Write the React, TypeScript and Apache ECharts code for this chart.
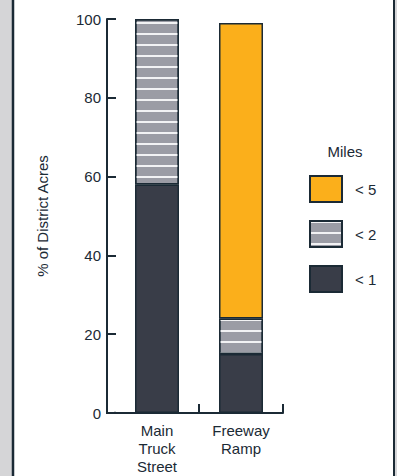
import React, { useEffect, useRef } from "react";
import * as echarts from "echarts";

const categories = ["Main\nTruck\nStreet", "Freeway\nRamp"];
const seriesNames = ["< 1", "< 2", "< 5"];
const under1 = [58, 15];
const under2 = [42, 9];
const under5: (number | string)[] = ["-", 75];
const yTicks = { min: 0, max: 100, interval: 20 };

const DARK = "#1b2a35";
const FONT = "Liberation Sans, Arial, sans-serif";

export default function App() {
  const ref = useRef<HTMLDivElement>(null);
  useEffect(() => {
    if (!ref.current) return;
    const chart = echarts.init(ref.current, undefined, { renderer: "svg" });
    const border = { borderColor: DARK, borderWidth: 1.5 };
    chart.setOption({
      animation: false,
      backgroundColor: "#ffffff",
      textStyle: { fontFamily: FONT },
      graphic: [
        { type: "rect", shape: { x: 0, y: 0, width: 12, height: 476 }, style: { fill: "#d5d5d7" }, z: -10 },
        { type: "rect", shape: { x: 395, y: 0, width: 2, height: 476 }, style: { fill: "#d5d5d7" }, z: -10 },
        { type: "line", shape: { x1: 13, y1: 0, x2: 13, y2: 476 }, style: { stroke: DARK, lineWidth: 2.5 } },
        { type: "line", shape: { x1: 394, y1: 0, x2: 394, y2: 476 }, style: { stroke: DARK, lineWidth: 2 } },
        { type: "rect", shape: { x: 113, y: 402, width: 5, height: 9.8 }, style: { fill: "#ffffff" }, z: 100 },
        { type: "line", shape: { x1: 106, y1: 413, x2: 116, y2: 413 }, style: { stroke: DARK, lineWidth: 2 }, z: 101 },
      ],
      title: {
        text: "Miles",
        left: 345,
        top: 144,
        textAlign: "center",
        padding: 0,
        textStyle: { fontSize: 15, fontWeight: "normal", color: DARK, fontFamily: FONT },
      },
      legend: {
        data: ["< 5", "< 2", "< 1"],
        orient: "vertical",
        left: 309,
        top: 175,
        padding: 0,
        icon: "rect",
        itemWidth: 32,
        itemHeight: 26,
        itemGap: 17,
        selectedMode: false,
        textStyle: { fontSize: 15, color: DARK, fontFamily: FONT, padding: [0, 0, 0, 8] },
      },
      grid: { left: 115, right: 114, top: 19, bottom: 63 },
      xAxis: {
        type: "category",
        data: categories,
        axisLine: { lineStyle: { color: DARK, width: 2 } },
        axisTick: {
          show: true,
          inside: true,
          length: 9,
          lineStyle: { color: DARK, width: 2 },
        },
        axisLabel: { fontSize: 15, lineHeight: 18, color: DARK, margin: 8, fontFamily: FONT, interval: 0 },
      },
      yAxis: {
        type: "value",
        min: yTicks.min,
        max: yTicks.max,
        interval: yTicks.interval,
        offset: 8,
        name: "% of District Acres",
        nameLocation: "middle",
        nameGap: 57,
        nameTextStyle: { fontSize: 15, color: DARK, fontFamily: FONT },
        axisLine: { show: true, lineStyle: { color: DARK, width: 2 } },
        axisTick: { show: true, inside: true, length: 9, lineStyle: { color: DARK, width: 2 } },
        axisLabel: { fontSize: 15, color: DARK, margin: 6, fontFamily: FONT },
        splitLine: { show: false },
      },
      series: [
        {
          name: seriesNames[0],
          type: "bar",
          stack: "a",
          barWidth: 44,
          data: under1,
          itemStyle: { color: "#393d48", ...border },
        },
        {
          name: seriesNames[1],
          type: "bar",
          stack: "a",
          barWidth: 44,
          data: under2,
          itemStyle: {
            color: "#9b9ca5",
            ...border,
            decal: {
              symbol: "rect",
              symbolSize: 1,
              dashArrayX: [1, 0],
              dashArrayY: [1.3, 8.4],
              rotation: 0,
              color: "#f2f2f4",
            },
          },
        },
        {
          name: seriesNames[2],
          type: "bar",
          stack: "a",
          barWidth: 44,
          data: under5,
          itemStyle: { color: "#fbaf1b", ...border },
        },
      ],
    });
    return () => chart.dispose();
  }, []);
  return (
    <div
      ref={ref}
      style={{ position: "fixed", left: 0, top: 0, width: 397, height: 476 }}
    />
  );
}
